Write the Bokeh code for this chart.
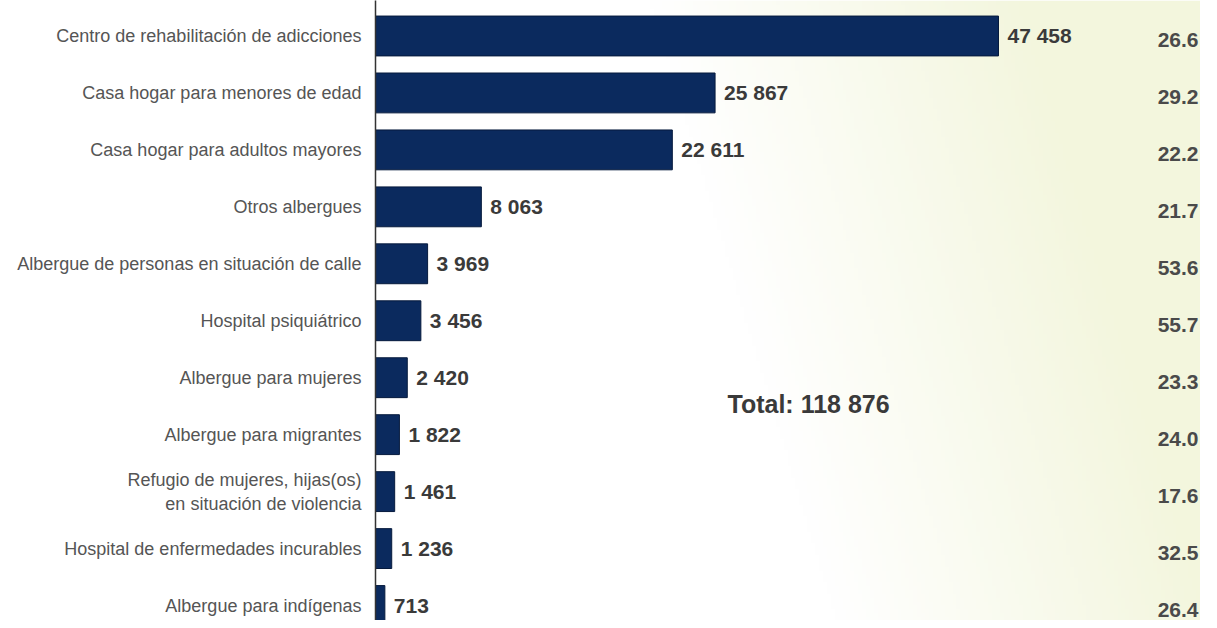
import numpy as np
from bokeh.plotting import figure
from bokeh.models import ColumnDataSource, Range1d, FixedTicker, Label
from bokeh.core.properties import value
from bokeh.embed import file_html
from bokeh.resources import INLINE

categories = [
    "Centro de rehabilitación de adicciones",
    "Casa hogar para menores de edad",
    "Casa hogar para adultos mayores",
    "Otros albergues",
    "Albergue de personas en situación de calle",
    "Hospital psiquiátrico",
    "Albergue para mujeres",
    "Albergue para migrantes",
    "Refugio de mujeres, hijas(os)\nen situación de violencia",
    "Hospital de enfermedades incurables",
    "Albergue para indígenas",
]
values = [47458, 25867, 22611, 8063, 3969, 3456, 2420, 1822, 1461, 1236, 713]
percents = [26.6, 29.2, 22.2, 21.7, 53.6, 55.7, 23.3, 24.0, 17.6, 32.5, 26.4]
total = 118876

FONT = "Liberation Sans"
n = len(categories)
ypos = [n - 1 - i for i in range(n)]
value_text = [f"{v:,}".replace(",", " ") for v in values]
pct_text = [f"{p:.1f}" for p in percents]

src = ColumnDataSource(dict(y=ypos, v=values, vt=value_text, pt=pct_text))

LEFT, TOP, WIDTH, HEIGHT = 375, 0, 1200, 620
X_END = 62846
Y_START, Y_END = -0.263, 10.623

p = figure(width=WIDTH, height=HEIGHT, output_backend="svg", toolbar_location=None,
           x_range=Range1d(0, X_END), y_range=Range1d(Y_START, Y_END),
           min_border_left=LEFT, min_border_right=0, min_border_top=TOP, min_border_bottom=0)
p.outline_line_color = None
p.background_fill_color = "white"
p.border_fill_color = "white"
p.grid.visible = False
p.xaxis.visible = False

# soft yellow-green background gradient (decoration)
H, W = 160, 210
fx = np.linspace(0, WIDTH - LEFT, W)[None, :] + LEFT
fy = np.linspace(0, HEIGHT - TOP, H)[:, None] + TOP
t = np.clip((fx - 650 - 0.3 * fy) / 380.0, 0, 1)
r = (255 - 12 * t).astype(np.uint32)
g = (255 - 9 * t).astype(np.uint32)
b = (255 - 34 * t).astype(np.uint32)
img = (255 << 24) | (b << 16) | (g << 8) | r
img = img[::-1].astype(np.uint32)
p.image_rgba(image=[img], x=0, y=Y_START, dw=X_END, dh=Y_END - Y_START, level="image")

p.hbar(y="y", right="v", left=0, height=0.70, source=src,
       fill_color="#0b2a5e", line_color="#061a3d", line_width=1)

p.text(x="v", y="y", text="vt", source=src, x_offset=9,
       text_align="left", text_baseline="middle",
       text_font=value(FONT), text_font_size="21px", text_font_style="bold",
       text_color="#3a3a3a")

p.text(x=62694, y="y", text="pt", source=src, y_offset=4,
       text_align="right", text_baseline="middle",
       text_font=value(FONT), text_font_size="21px", text_font_style="bold",
       text_color="#4a4a4a")

total_lbl = Label(x=26814, y=3.546, text="Total: " + f"{total:,}".replace(",", " "),
                  text_font=FONT, text_font_size="25px", text_font_style="bold",
                  text_color="#3a3a3a", text_align="left", text_baseline="middle")
p.add_layout(total_lbl)

ax = p.yaxis[0]
ax.ticker = FixedTicker(ticks=ypos)
ax.major_label_overrides = {y: c for y, c in zip(ypos, categories)}
ax.major_tick_out = 0
ax.major_tick_in = 0
ax.minor_tick_out = 0
ax.minor_tick_in = 0
ax.major_label_standoff = 14
ax.axis_line_color = "#333333"
ax.axis_line_width = 1.5
ax.major_label_text_font = FONT
ax.major_label_text_font_size = "18px"
ax.major_label_text_color = "#555555"

open("out.html", "w").write(file_html(p, INLINE))
